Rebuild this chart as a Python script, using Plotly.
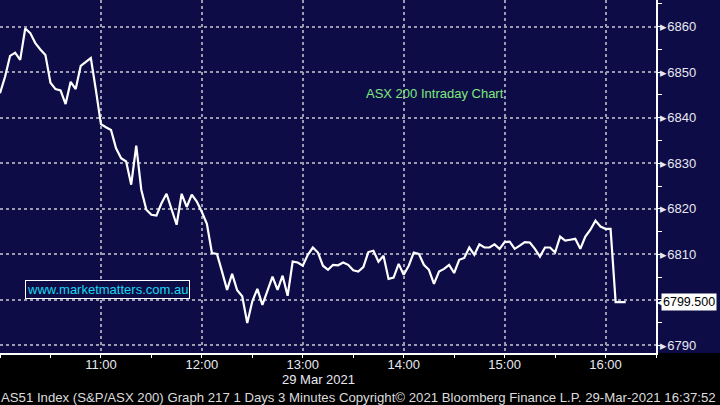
import pandas as pd
import plotly.graph_objects as go

# 3-minute closes for AS51 on 29 Mar 2021, first bar 10:00
closes = [
    6845.4, 6849.0, 6853.6, 6854.3, 6852.7, 6859.6, 6858.6, 6856.4, 6855.0, 6853.8,
    6847.7, 6846.3, 6846.0, 6843.0, 6847.9, 6846.3, 6851.4, 6852.3, 6853.1, 6846.1,
    6838.6, 6837.9, 6837.3, 6833.3, 6831.1, 6830.4, 6825.3, 6833.9, 6824.2, 6819.8,
    6818.7, 6818.5, 6821.2, 6823.3, 6819.8, 6816.5, 6823.3, 6820.4, 6823.1, 6821.6,
    6819.3, 6816.7, 6810.3, 6810.1, 6806.2, 6802.2, 6805.7, 6802.1, 6800.8, 6794.9,
    6799.7, 6802.4, 6798.9, 6802.2, 6805.1, 6802.2, 6805.3, 6800.9, 6808.4, 6808.2,
    6807.5, 6809.9, 6811.5, 6810.4, 6807.5, 6806.6, 6807.7, 6807.6, 6808.2, 6807.7,
    6806.5, 6806.2, 6807.2, 6810.5, 6810.8, 6808.4, 6809.7, 6804.6, 6804.9, 6807.9,
    6805.5, 6807.5, 6810.4, 6810.1, 6807.7, 6806.6, 6803.5, 6806.2, 6806.8, 6807.7,
    6805.9, 6808.8, 6809.2, 6811.5, 6809.9, 6812.2, 6811.5, 6811.5, 6812.2, 6811.2,
    6812.7, 6812.8, 6811.2, 6811.9, 6812.7, 6812.6, 6811.2, 6809.5, 6811.5, 6811.5,
    6810.4, 6813.9, 6813.0, 6813.2, 6813.4, 6811.2, 6813.9, 6815.4, 6817.4, 6816.1,
    6815.6, 6815.6, 6799.5, 6799.5, 6799.5,
]
times = pd.date_range("2021-03-29 10:00", periods=len(closes), freq="3min")

y_ticks = list(range(6790, 6870, 10))
y_labels = ["" if v == 6800 else f"\u25b8{v}" for v in y_ticks]
last_value = 6799.5

title_text = "ASX 200 Intraday Chart"
site_text = "www.marketmatters.com.au"
date_text = "29 Mar 2021"
footer_text = (
    "AS51 Index (S&P/ASX 200) Graph 217 1 Days 3 Minutes Copyright\u00a9 2021 "
    "Bloomberg Finance L.P. 29-Mar-2021 16:37:52"
)

NAVY = "#0e0c46"
GRID = "#9c9cb0"
FONT = "Liberation Sans"
LABEL = "#e8e8f2"

fig = go.Figure()

fig.add_trace(
    go.Scatter(
        x=times,
        y=closes,
        mode="lines",
        line=dict(color="white", width=2.2),
        hoverinfo="skip",
    )
)

# navy panel also fills the price-label strip on the right
fig.add_shape(
    type="rect", xref="paper", yref="paper",
    x0=0, x1=1.1, y0=0, y1=1,
    fillcolor=NAVY, line_width=0, layer="below",
)

fig.update_xaxes(
    range=["2021-03-29 10:00", "2021-03-29 16:30"],
    dtick=3600000,
    tickformat="%H:%M",
    showgrid=True,
    gridcolor=GRID,
    griddash="dot",
    gridwidth=1.5,
    ticks="outside",
    ticklen=3,
    tickcolor="white",
    ticklabelstandoff=-4,
    minor=dict(dtick=1800000, ticks="outside", ticklen=3, tickcolor="white", showgrid=False),
    showline=True,
    linecolor="white",
    linewidth=1.5,
    tickfont=dict(family=FONT, size=13, color=LABEL),
    zeroline=False,
    automargin=False,
)

fig.update_yaxes(
    side="right",
    range=[6788.33, 6865.86],
    tickvals=y_ticks,
    ticktext=y_labels,
    showgrid=True,
    gridcolor=GRID,
    griddash="dot",
    gridwidth=1.5,
    ticks="",
    minor=dict(dtick=5, ticks="outside", ticklen=4, tickcolor="white", showgrid=False),
    showline=True,
    linecolor="white",
    linewidth=1.5,
    tickfont=dict(family=FONT, size=13, color=LABEL),
    zeroline=False,
    automargin=False,
)

fig.add_annotation(
    text=title_text, xref="paper", yref="paper", x=0.663, y=0.7365,
    xanchor="center", yanchor="middle",
    showarrow=False, font=dict(family=FONT, size=13, color="#7ee87e"),
)
fig.add_annotation(
    text=site_text, xref="paper", yref="paper", x=0.164, y=0.18,
    xanchor="center", yanchor="middle",
    showarrow=False, font=dict(family=FONT, size=13, color="#19d7f0"),
    bordercolor="white", borderwidth=1, borderpad=1, bgcolor=NAVY,
)
fig.add_annotation(
    text="\u25c0", xref="paper", yref="y", x=1, y=last_value,
    xanchor="left", yanchor="middle", xshift=-1, showarrow=False,
    font=dict(family="DejaVu Sans", size=12, color="white"),
)
fig.add_annotation(
    text=f"{last_value:.3f}", xref="paper", yref="y", x=1, y=last_value,
    xanchor="left", yanchor="middle", xshift=5, showarrow=False,
    font=dict(family=FONT, size=12.5, color="black"),
    bgcolor="white", borderpad=1,
)
fig.add_annotation(
    text=date_text, xref="paper", yref="paper", x=0.485, y=0,
    xanchor="center", yanchor="middle", yshift=-26, showarrow=False,
    font=dict(family=FONT, size=13, color=LABEL),
)
fig.add_annotation(
    text=footer_text, xref="paper", yref="paper", x=0, y=0,
    xanchor="left", yanchor="middle", yshift=-44, xshift=-1, showarrow=False,
    font=dict(family=FONT, size=13.2, color="#dcdcdc"),
)

fig.update_layout(
    width=720,
    height=405,
    margin=dict(l=0, r=64, t=0, b=52),
    paper_bgcolor="black",
    plot_bgcolor=NAVY,
    showlegend=False,
)

# drop the browser's default body margin so the 720x405 figure sits at 0,0
fig.write_html(
    "out.html",
    config={"displayModeBar": False},
    post_script="document.body.style.margin='0';document.body.style.overflow='hidden';",
)
